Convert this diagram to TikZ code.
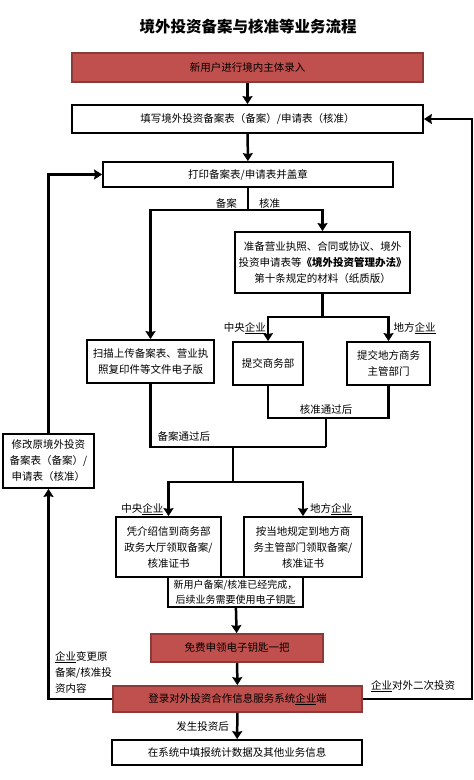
\documentclass[tikz,border=0pt]{standalone}
\usepackage{fontspec}
\setmainfont{Noto Sans CJK SC}
\usepackage{tikz}
\usetikzlibrary{arrows,arrows.meta,positioning}
\definecolor{boxred}{RGB}{192,80,77}
\definecolor{boxredline}{RGB}{140,58,56}

\begin{document}
\begin{tikzpicture}[x=1pt,y=-1pt]

	\tikzstyle{block} = [rectangle, draw, line width=1.8pt, align=center,
		inner sep=0pt, font=\fontsize{10.5}{16}\selectfont]
	\tikzstyle{block_red} = [block, fill=boxred, draw=boxredline]
	\tikzstyle{plaintext} = [draw=none, fill=none, inner sep=1pt,
		font=\fontsize{10.5}{16}\selectfont]
	\tikzstyle{line} = [draw, ->, >={Stealth[length=8pt,width=10pt,inset=1pt]}, line width=2.5pt]
	\tikzstyle{link} = [draw, line width=2.5pt]

    \path [fill=white, use as bounding box] (0,0) rectangle (474,780);

    \node [plaintext, font=\fontsize{15.5}{18}\selectfont\bfseries] at (248, 27) (title) {境外投资备案与核准等业务流程};

    % Place nodes
    \node [block_red, minimum width=351pt, minimum height=29pt] at (247.5, 67.5) (new_user) {新用户进行境内主体录入};
    \node [block, minimum width=351pt, minimum height=28pt] at (247.5, 119) (fill_form) {填写境外投资备案表（备案）/申请表（核准）};
    \node [block, minimum width=290pt, minimum height=25pt] at (248, 174.5) (print_form) {打印备案表/申请表并盖章};

    \node [block, minimum width=175pt, minimum height=61pt] at (322.5, 262.5) (materials) {准备营业执照、合同或协议、境外\\投资申请表等{\bfseries《境外投资管理办法》}\\第十条规定的材料（纸质版）};
    \node [block, minimum width=127pt, minimum height=43pt] at (150.5, 361.5) (scan_upload) {扫描上传备案表、营业执\\照复印件等文件电子版};
    \node [block, minimum width=70pt, minimum height=43pt] at (268, 363.5) (mofcom) {提交商务部};
    \node [block, minimum width=83pt, minimum height=43pt] at (388.5, 363.5) (local_dept) {提交地方商务\\主管部门};

    \node [block, minimum width=105pt, minimum height=60pt] at (168.5, 547) (cert_central) {凭介绍信到商务部\\政务大厅领取备案/\\核准证书};
    \node [block, minimum width=118pt, minimum height=60pt] at (303, 547) (cert_local) {按当地规定到地方商\\务主管部门领取备案/\\核准证书};
    \node [block, minimum width=135pt, minimum height=30pt, font=\fontsize{10}{15}\selectfont] at (235.5, 592) (key_note) {新用户备案/核准已经完成，\\后续业务需要使用电子钥匙};

    \node [block_red, minimum width=172pt, minimum height=28pt] at (237, 648) (free_key) {免费申领电子钥匙一把};
    \node [block_red, minimum width=249pt, minimum height=26pt] at (237.5, 699) (login) {登录对外投资合作信息服务系统\underline{企业}端};
    \node [block, minimum width=250pt, minimum height=25pt] at (237, 752.5) (report) {在系统中填报统计数据及其他业务信息};

    \node [block, minimum width=91pt, minimum height=54pt] at (48.5, 461) (modify) {修改原境外投资\\备案表（备案）/\\申请表（核准）};

    % Joints
    \coordinate (split_type) at (248, 210);
    \coordinate (split_appr) at (322.5, 317);
    \coordinate (appr_join) at (326, 418);
    \coordinate (filing_join) at (326, 447);
    \coordinate (filing_corner) at (150.5, 447);
    \coordinate (split_cert) at (233, 447);
    \coordinate (split_cert_low) at (233, 482);
    \coordinate (loop_lb) at (48.5, 699);
    \coordinate (loop_lt) at (48.5, 174.5);
    \coordinate (loop_rb) at (472, 699);
    \coordinate (loop_rt) at (472, 119);

    % Labels
    \node [plaintext, above left=0pt and 10pt of split_type] (lbl_filing) {备案};
    \node [plaintext, above right=0pt and 10pt of split_type] (lbl_approval) {核准};
    \node [plaintext, above left=6pt and 1pt of mofcom.north] (lbl_central) {中央\underline{企业}};
    \node [plaintext, above right=6pt and 4pt of local_dept.north] (lbl_local) {地方\underline{企业}};
    \node [plaintext, above=2pt of appr_join] (lbl_appr_done) {核准通过后};
    \node [plaintext, above right=4pt and 6pt of filing_corner] (lbl_filing_done) {备案通过后};
    \node [plaintext, above left=0pt and 4pt of cert_central.north] (lbl_central2) {中央\underline{企业}};
    \node [plaintext, above right=0pt and 6pt of cert_local.north] (lbl_local2) {地方\underline{企业}};
    \node [plaintext, align=left, anchor=west] at (54, 672) (lbl_change) {\underline{企业}变更原\\备案/核准投\\资内容};
    \node [plaintext] at (413, 686) (lbl_second) {\underline{企业}对外二次投资};

    % Draw edges
    \path [line] (new_user) -- (fill_form);
    \path [line] (fill_form) -- (print_form);
    \path [link] (print_form) -- (split_type);
    \path [line] (split_type) -| (scan_upload);
    \path [line] (split_type) -| (materials);
    \path [link] (materials) -- (split_appr);
    \path [line] (split_appr) -| (mofcom);
    \path [line] (split_appr) -| (local_dept);
    \path [link] (mofcom) |- (appr_join);
    \path [link] (local_dept) |- (appr_join);
    \path [link] (appr_join) -- (filing_join);
    \path [link] (scan_upload) -- (filing_corner) -- (filing_join);
    \path [link] (split_cert) -- (split_cert_low);
    \path [line] (split_cert_low) -| (cert_central);
    \path [line] (split_cert_low) -| (cert_local);
    \path [line] (key_note) -- (free_key);
    \path [line] (free_key) -- (login);
    \path [line] (login) -- node [plaintext, left=6pt] (lbl_invest) {发生投资后} (report);
    \path [line] (login) -- (loop_lb) -- (modify);
    \path [line] (modify) -- (loop_lt) -- (print_form);
    \path [line] (login) -- (loop_rb) -- (loop_rt) -- (fill_form);
\end{tikzpicture}
\end{document}
